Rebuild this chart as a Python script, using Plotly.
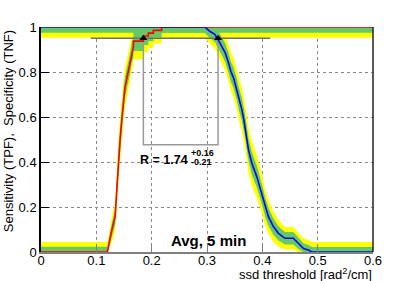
import plotly.graph_objects as go

# ---- data ----
sens_x = [0, 0.12, 0.128, 0.134, 0.137, 0.140, 0.143, 0.146, 0.149, 0.152, 0.155, 0.161, 0.164,
          0.167, 0.167, 0.185, 0.185, 0.194, 0.194, 0.203, 0.203, 0.218, 0.218, 0.6]
sens_y = [0, 0, 0.098, 0.157, 0.276, 0.41, 0.5, 0.586, 0.675, 0.735, 0.77, 0.84, 0.885,
          0.91, 0.937, 0.937, 0.96, 0.96, 0.973, 0.973, 0.985, 0.985, 1, 1]
sens_e1 = [0.023, 0.023, 0.03, 0.035, 0.042, 0.048, 0.05, 0.05, 0.048, 0.046, 0.045, 0.044, 0.044,
           0.044, 0.044, 0.044, 0.04, 0.04, 0.036, 0.036, 0.032, 0.032, 0.026, 0.026]
sens_e2 = [0.045, 0.045, 0.055, 0.065, 0.08, 0.09, 0.095, 0.095, 0.09, 0.088, 0.085, 0.082, 0.08,
           0.08, 0.08, 0.08, 0.072, 0.072, 0.065, 0.065, 0.058, 0.058, 0.048, 0.048]

spec_x = [0, 0.296, 0.305, 0.314, 0.320, 0.327, 0.333, 0.339, 0.343, 0.348, 0.354, 0.358, 0.363,
          0.366, 0.370, 0.375, 0.381, 0.39, 0.396, 0.402, 0.405, 0.411, 0.42, 0.429, 0.441, 0.456,
          0.465, 0.474, 0.483, 0.49, 0.6]
spec_y = [1, 1, 0.981, 0.967, 0.944, 0.914, 0.885, 0.84, 0.803, 0.774, 0.722, 0.677, 0.633,
          0.596, 0.54, 0.454, 0.395, 0.335, 0.284, 0.232, 0.2, 0.157, 0.113, 0.083, 0.061, 0.061,
          0.039, 0.016, 0.009, 0, 0]
spec_e1 = [0.026, 0.026, 0.03, 0.034, 0.038, 0.04, 0.042, 0.044, 0.045, 0.046, 0.048, 0.05, 0.05,
           0.05, 0.05, 0.05, 0.05, 0.048, 0.046, 0.044, 0.042, 0.04, 0.036, 0.032, 0.028, 0.028,
           0.026, 0.024, 0.022, 0.022, 0.022]
spec_e2 = [0.048, 0.048, 0.055, 0.062, 0.07, 0.075, 0.08, 0.082, 0.085, 0.088, 0.09, 0.095, 0.095,
           0.1, 0.1, 0.1, 0.1, 0.095, 0.09, 0.085, 0.08, 0.075, 0.068, 0.06, 0.05, 0.05,
           0.048, 0.045, 0.044, 0.044, 0.044]

cut_y = 0.95
cut_x = [0.185, 0.32]
box_bottom = 0.477
hline_x = [0.09, 0.414]

x_ticks = [0, 0.1, 0.2, 0.3, 0.4, 0.5, 0.6]
x_tick_labels = ["0", "0.1", "0.2", "0.3", "0.4", "0.5", "0.6"]
y_ticks = [0, 0.2, 0.4, 0.6, 0.8, 1]
y_tick_labels = ["0", "0.2", "0.4", "0.6", "0.8", "1"]

YELLOW = "#ffff00"
GREEN = "#66c966"
FONT = "Liberation Sans, Arial, Helvetica, sans-serif"


def band(xs, ys, es):
    up = [min(1.0, y + e) for y, e in zip(ys, es)]
    lo = [max(0.0, y - e) for y, e in zip(ys, es)]
    return list(xs) + list(xs)[::-1], up + lo[::-1]


fig = go.Figure()

for xs, ys, es in [(sens_x, sens_y, sens_e2), (spec_x, spec_y, spec_e2)]:
    bx, by = band(xs, ys, es)
    fig.add_trace(go.Scatter(x=bx, y=by, fill="toself", fillcolor=YELLOW, mode="none",
                             hoverinfo="skip", showlegend=False))
for xs, ys, es in [(sens_x, sens_y, sens_e1), (spec_x, spec_y, spec_e1)]:
    bx, by = band(xs, ys, es)
    fig.add_trace(go.Scatter(x=bx, y=by, fill="toself", fillcolor=GREEN, mode="none",
                             hoverinfo="skip", showlegend=False))

# cut box lines
fig.add_trace(go.Scatter(x=[cut_x[0], cut_x[0], cut_x[1], cut_x[1]],
                         y=[cut_y, box_bottom, box_bottom, cut_y],
                         mode="lines", line=dict(color="#9a9a9a", width=1.5),
                         hoverinfo="skip", showlegend=False))
fig.add_trace(go.Scatter(x=hline_x, y=[cut_y, cut_y], mode="lines",
                         line=dict(color="#6e6e6e", width=1.5),
                         hoverinfo="skip", showlegend=False))

fig.add_trace(go.Scatter(x=sens_x, y=sens_y, mode="lines",
                         line=dict(color="#ff0000", width=1.6), showlegend=False))
fig.add_trace(go.Scatter(x=spec_x, y=spec_y, mode="lines",
                         line=dict(color="#0000ff", width=1.6), showlegend=False))

fig.add_trace(go.Scatter(x=cut_x, y=[cut_y, cut_y], mode="markers",
                         marker=dict(symbol="triangle-up", size=7, color="black"),
                         showlegend=False))

# right frame
fig.add_shape(type="line", xref="paper", yref="paper", x0=1, x1=1, y0=0, y1=1,
              line=dict(color="#222222", width=1.5))

fig.add_annotation(x=0.178, y=0.411, xref="x", yref="y", text="<b>R = 1.74</b>",
                   showarrow=False, xanchor="left", yanchor="middle", borderpad=0,
                   font=dict(family=FONT, size=12.5, color="black"))
fig.add_annotation(x=0.269, y=0.438, xref="x", yref="y", text="<b>+0.16</b>",
                   showarrow=False, xanchor="left", yanchor="middle", borderpad=0,
                   font=dict(family=FONT, size=9, color="black"))
fig.add_annotation(x=0.269, y=0.400, xref="x", yref="y", text="<b>-0.21</b>",
                   showarrow=False, xanchor="left", yanchor="middle", borderpad=0,
                   font=dict(family=FONT, size=9, color="black"))
fig.add_annotation(x=0.302, y=0.05, xref="x", yref="y", text="<b>Avg, 5 min</b>",
                   showarrow=False, xanchor="center", yanchor="middle", borderpad=0,
                   font=dict(family=FONT, size=15, color="black"))

fig.add_annotation(x=1.0, y=-0.099, xref="paper", yref="paper",
                   text="ssd threshold [rad<sup>2</sup>/cm]", showarrow=False,
                   xanchor="right", yanchor="middle", borderpad=0,
                   font=dict(family=FONT, size=13, color="black"))
fig.add_annotation(x=-0.0994, y=0.537, xref="paper", yref="y",
                   text="Sensitivity (TPF),  Specificity (TNF)", showarrow=False,
                   textangle=-90, xanchor="center", yanchor="middle", borderpad=0,
                   font=dict(family=FONT, size=13, color="black"))

fig.update_xaxes(range=[0, 0.6], tickvals=x_ticks, ticktext=x_tick_labels,
                 showgrid=True, gridcolor="#8a8a8a", griddash="dot", gridwidth=1,
                 ticks="inside", ticklen=8, tickcolor="#808080",
                 showline=True, linecolor="#808080", linewidth=2,
                 zeroline=False, automargin=False, ticklabelstandoff=-5,
                 tickfont=dict(family=FONT, size=13, color="black"))
fig.update_yaxes(range=[0, 1], tickvals=y_ticks, ticktext=y_tick_labels,
                 showgrid=True, gridcolor="#8a8a8a", griddash="dot", gridwidth=1,
                 ticks="inside", ticklen=8, tickcolor="black",
                 showline=True, linecolor="black", linewidth=1.5,
                 zeroline=False, automargin=False,
                 tickfont=dict(family=FONT, size=13, color="black"))

fig.update_layout(width=415, height=281, margin=dict(l=41, r=42, t=27, b=29),
                  plot_bgcolor="white", paper_bgcolor="white", showlegend=False)

fig.write_html("out.html", config={"displayModeBar": False},
               post_script="document.body.style.margin='0';")
